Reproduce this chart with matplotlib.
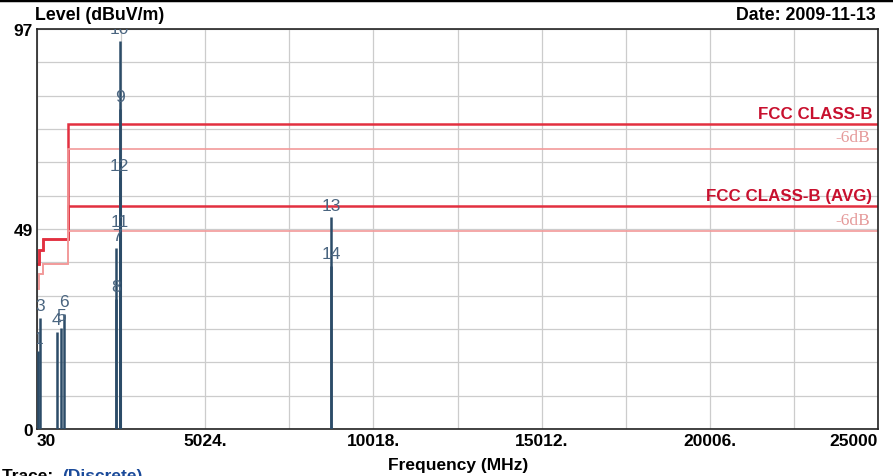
import numpy as np
import matplotlib
matplotlib.use("Agg")
import matplotlib.pyplot as plt
from matplotlib.lines import Line2D

plt.rcParams['font.family'] = ['Liberation Sans', 'DejaVu Sans']

# limit lines (FCC class B, 3 m)
lim_edges = [30, 88, 216, 960, 25000]
qp_limit = [40, 43.5, 46, 74]
avg_limit = [40, 43.5, 46, 54]

# discrete measurement markers
mk_label = ['1', '3', '4', '5', '6', '7', '8', '9', '10', '11', '12', '13', '14']
mk_freq = [60, 130, 617, 745, 843, 2390, 2390, 2480, 2480, 2480, 2480, 8760, 8760]
mk_level = [19, 27, 23.5, 24.5, 28, 44, 31.5, 77.5, 94, 47.2, 61, 51.3, 39.5]

x_ticks = [30 + 2497 * k for k in range(11)]
x_labels = ['30', '', '5024.', '', '10018.', '', '15012.', '', '20006.', '', '25000']
y_ticks = [97 / 12 * k for k in range(13)]
y_labels = ['0', '', '', '', '', '', '49', '', '', '', '', '', '97']

fig = plt.figure(figsize=(8.93, 4.77), dpi=100)
ax = fig.add_axes([37 / 893, 1 - 430 / 477, (878 - 37) / 893, 400 / 477])
ax.set_xlim(30, 25000)
ax.set_ylim(0, 97)

ax.set_xticks(x_ticks)
ax.set_xticklabels(x_labels, fontsize=12.5, fontweight='bold')
xt = ax.get_xticklabels()
xt[0].set_ha('left')
xt[-1].set_ha('right')
ax.set_yticks(y_ticks)
ax.set_yticklabels(y_labels, fontsize=12.5, fontweight='bold')
ax.tick_params(length=0, pad=3)
ax.grid(True, color='#cccccc', lw=0.9)
ax.set_axisbelow(True)
for s in ax.spines.values():
    s.set_color('#222222')
    s.set_linewidth(1.2)

strong = '#e23040'
light = '#f29a9a'
ax.stairs(qp_limit, lim_edges, baseline=None, color=strong, lw=1.8)
ax.stairs(avg_limit, lim_edges, baseline=None, color=strong, lw=1.8)
ax.stairs(np.array(qp_limit) - 6, lim_edges, baseline=None, color=light, lw=1.2)
ax.stairs(np.array(avg_limit) - 6, lim_edges, baseline=None, color=light, lw=1.2)

xr = 24830
ax.text(xr, qp_limit[-1] + 0.8, 'FCC CLASS-B', ha='right', va='bottom', color='#c8102e',
        fontsize=12.2, fontweight='bold')
ax.text(xr - 60, qp_limit[-1] - 6 + 0.8, '-6dB', ha='right', va='bottom', color='#e59a9a',
        fontsize=12.5, family=['Liberation Serif'])
ax.text(xr, avg_limit[-1] + 0.8, 'FCC CLASS-B (AVG)', ha='right', va='bottom', color='#c8102e',
        fontsize=12.2, fontweight='bold')
ax.text(xr - 60, avg_limit[-1] - 6 + 0.8, '-6dB', ha='right', va='bottom', color='#e59a9a',
        fontsize=12.5, family=['Liberation Serif'])

ax.vlines(mk_freq, 0, mk_level, color='#2c4c68', lw=1.8, zorder=4)
for lab, f, v in zip(mk_label, mk_freq, mk_level):
    ax.text(f, v + 1.2, lab, ha='center', va='bottom', color='#4a6580', fontsize=12.5,
            clip_on=True, zorder=5)

fig.text(35 / 893, 1 - 15 / 477, 'Level (dBuV/m)', ha='left', va='center', fontsize=12.8,
         fontweight='bold')
fig.text(876 / 893, 1 - 16 / 477, 'Date: 2009-11-13', ha='right', va='center', fontsize=12.8,
         fontweight='bold')
fig.text(458 / 893, 1 - 466 / 477, 'Frequency (MHz)', ha='center', va='center', fontsize=12.5,
         fontweight='bold')
fig.text(2 / 893, 0.002, 'Trace: ', ha='left', va='center', fontsize=12.5, fontweight='bold')
fig.text(62 / 893, 0.002, '(Discrete)', ha='left', va='center', fontsize=12.5,
         fontweight='bold', color='#1a4a9a')

fig.add_artist(Line2D([0, 1], [1 - 1 / 477, 1 - 1 / 477], color='black', lw=2.5))

fig.savefig('out.png', dpi=100)
